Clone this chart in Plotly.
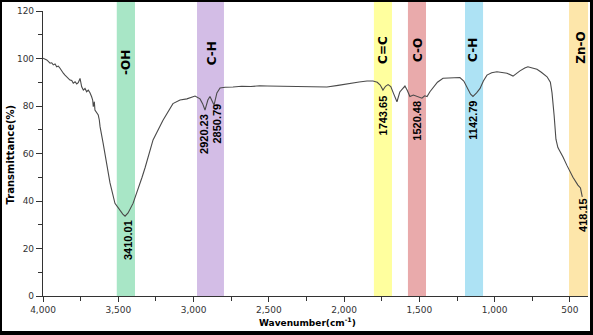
import plotly.graph_objects as go

# ---- data -------------------------------------------------------------
wavenumber = [4000, 3975, 3953, 3942, 3932, 3920, 3909, 3898, 3887, 3876, 3865, 3854,
              3843, 3832, 3821, 3809, 3799, 3787, 3776, 3766, 3754, 3743, 3732, 3721,
              3710, 3699, 3688, 3677, 3670, 3666, 3659, 3655, 3643, 3633, 3626, 3621,
              3601, 3575, 3555, 3522, 3489, 3470, 3455, 3435, 3402, 3376, 3342, 3322,
              3269, 3203, 3137, 3090, 3044, 2990, 2957, 2940, 2924, 2905, 2891, 2864,
              2845, 2824, 2790, 2738, 2680, 2620, 2560, 2512, 2450, 2380, 2293, 2200,
              2114, 2040, 1961, 1900, 1848, 1808, 1780, 1760, 1742, 1725, 1708, 1690,
              1670, 1649, 1630, 1596, 1580, 1563, 1540, 1516, 1500, 1483, 1465, 1449,
              1430, 1410, 1380, 1343, 1290, 1231, 1205, 1184, 1160, 1144, 1120, 1097,
              1075, 1051, 1020, 985, 950, 918, 878, 855, 832, 800, 779, 750, 719, 690,
              652, 630, 619, 605, 593, 580, 566, 546, 520, 500, 480, 447, 430, 418]
transmittance = [100.1, 99.4, 98.0, 98.2, 97.3, 97.7, 96.5, 96.8, 95.9, 94.5, 93.8, 93.0,
                 92.3, 91.6, 90.9, 90.7, 89.6, 90.2, 89.3, 89.8, 91.6, 88.1, 86.7, 87.4,
                 86.0, 86.7, 85.6, 83.9, 82.5, 79.7, 81.8, 78.3, 76.9, 76.2, 74.1, 71.3,
                 64.5, 55.0, 47.6, 39.0, 36.0, 34.5, 33.6, 35.0, 39.0, 43.4, 50.0, 54.0,
                 65.7, 74.0, 81.0, 82.5, 83.0, 84.2, 83.0, 81.0, 78.3, 82.5, 84.0, 80.4,
                 85.5, 87.6, 87.9, 88.0, 88.3, 88.2, 88.5, 88.4, 88.3, 88.2, 88.0, 87.9,
                 88.0, 88.7, 89.6, 90.1, 90.5, 90.5, 90.0, 88.8, 86.7, 88.3, 89.0, 88.2,
                 85.0, 81.8, 85.9, 88.4, 86.5, 84.0, 84.6, 84.0, 83.6, 83.3, 84.3, 84.0,
                 86.0, 87.5, 90.0, 91.7, 91.8, 92.0, 90.5, 88.0, 85.0, 84.0, 85.5, 87.4,
                 90.5, 93.0, 94.0, 94.4, 94.2, 93.8, 92.6, 93.8, 94.8, 96.0, 96.5, 96.0, 95.5, 94.2,
                 92.3, 90.0, 85.5, 76.0, 66.0, 62.5, 61.0, 58.5, 55.0, 52.2, 50.0, 46.7, 45.5, 41.7]

band_labels = ["-OH", "C-H", "C=C", "C-O", "C-H", "Zn-O"]
band_lo = [3389, 2798, 1682, 1456, 1077, 370]
band_hi = [3510, 2977, 1802, 1576, 1197, 506]
band_label_x = [3449, 2880, 1742, 1509, 1144, 427]
band_label_y = [98.5, 102, 103.6, 103.6, 103.6, 104.5]
band_colors = ["#a8e6c6", "#d3bde6", "#ffff9e", "#e9aaab", "#ade2f4", "#fde6aa"]

peak_labels = ["3410.01", "2920.23", "2850.79", "1743.65", "1520.48", "1142.79", "418.15"]
peak_x = [3435, 2931, 2841, 1745, 1513, 1141, 417]
peak_y = [23.6, 68.2, 72.8, 75.8, 74.0, 74.0, 34.3]

x_ticks = [4000, 3500, 3000, 2500, 2000, 1500, 1000, 500]
x_ticktext = ["4,000", "3,500", "3,000", "2,500", "2,000", "1,500", "1,000", "500"]
y_ticks = [0, 20, 40, 60, 80, 100, 120]

# ---- figure -----------------------------------------------------------
W, H = 593, 335
L, R, T, B = 43, 5, 11, 39
PW, PH = W - L - R, H - T - B

def px(xpix):
    return (xpix - L) / PW

def py(ypix):
    return (H - B - ypix) / PH

fig = go.Figure()
fig.add_trace(go.Scatter(x=wavenumber, y=transmittance, mode="lines",
                         line=dict(color="#4a4a4a", width=1.1), hoverinfo="skip"))

shapes = []
for lo, hi, c in zip(band_lo, band_hi, band_colors):
    shapes.append(dict(type="rect", xref="x", yref="paper", x0=lo, x1=hi,
                       y0=0, y1=py(2), fillcolor=c, line=dict(width=0), layer="below"))

# outer black frame
frame = [(0, 0, 2, H), (W - 3, 0, W, H), (0, 0, W, 2), (0, H - 4, W, H)]
for x0, y0, x1, y1 in frame:
    shapes.append(dict(type="rect", xref="paper", yref="paper",
                       x0=px(x0), x1=px(x1), y0=py(y1), y1=py(y0),
                       fillcolor="black", line=dict(width=0), layer="above"))

annotations = []
for t, x, y in zip(band_labels, band_label_x, band_label_y):
    annotations.append(dict(x=x, y=y, xref="x", yref="y", text=t, showarrow=False,
                            textangle=-90, xanchor="center", yanchor="middle",
                            font=dict(family="DejaVu Sans", size=12, color="black", weight="bold")))
for t, x, y in zip(peak_labels, peak_x, peak_y):
    annotations.append(dict(x=x, y=y, xref="x", yref="y", text="<b>" + t + "</b>", showarrow=False,
                            textangle=-90, xanchor="center", yanchor="middle",
                            font=dict(family="Liberation Sans", size=11, color="black")))
annotations.append(dict(x=px(9.5), y=py(155), xref="paper", yref="paper",
                        text="<b>Transmittance(%)</b>", showarrow=False, textangle=-90,
                        xanchor="center", yanchor="middle",
                        font=dict(family="DejaVu Sans", size=10, color="black")))
annotations.append(dict(x=px(307), y=py(322), xref="paper", yref="paper",
                        text="<b>Wavenumber(cm<sup>-1</sup>)</b>", showarrow=False,
                        xanchor="center", yanchor="middle",
                        font=dict(family="DejaVu Sans", size=9, color="black")))

fig.update_layout(
    width=W, height=H,
    margin=dict(l=L, r=R, t=T, b=B, pad=0),
    paper_bgcolor="white", plot_bgcolor="white",
    showlegend=False,
    shapes=shapes, annotations=annotations,
    xaxis=dict(range=[4000, 380], tickvals=x_ticks, ticktext=x_ticktext,
               showgrid=False, zeroline=False, showline=True, linecolor="#333",
               linewidth=1.2, ticks="outside", ticklen=5, tickcolor="#333", tickwidth=1.2,
               minor=dict(dtick=250, tick0=0, ticks="outside", ticklen=4, tickcolor="#333", tickwidth=1),
               tickfont=dict(family="DejaVu Sans", size=9, color="#333")),
    yaxis=dict(range=[0, 120], tickvals=y_ticks,
               showgrid=False, zeroline=False, showline=True, linecolor="#333",
               linewidth=1.2, ticks="outside", ticklen=6, tickcolor="#333", tickwidth=1.2,
               minor=dict(dtick=10, tick0=0, ticks="outside", ticklen=4, tickcolor="#333", tickwidth=1),
               tickfont=dict(family="DejaVu Sans", size=9, color="#333")),
)

fig.write_html("out.html")
